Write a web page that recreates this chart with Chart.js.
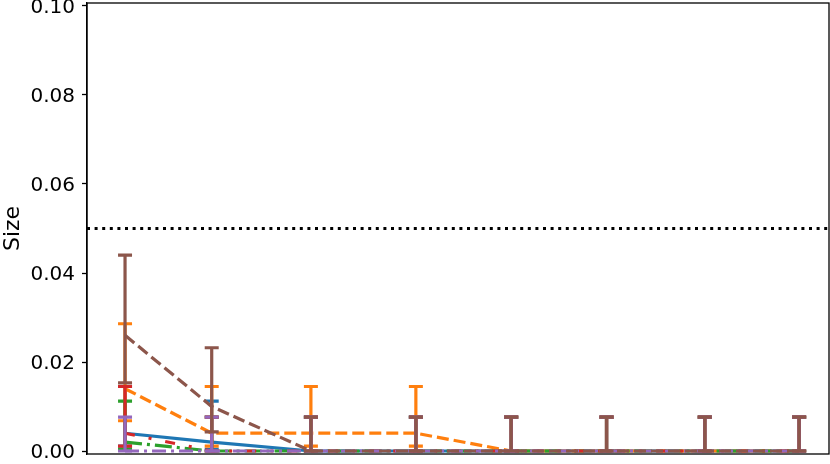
<!DOCTYPE html>
<html>
<head>
<meta charset="utf-8">
<script src="https://cdn.jsdelivr.net/npm/chart.js@4/dist/chart.umd.min.js"></script>
<style>
  html, body { margin: 0; padding: 0; background: #fff; }
  #wrap { width: 830px; height: 464px; }
</style>
</head>
<body>
<div id="wrap"><canvas id="sizeChart" width="830" height="464"></canvas></div>
<script>
// x positions of the 8 settings
const xVals = [1, 1.9, 2.93, 4.02, 5.01, 6.0, 7.02, 8.0];
const yTicks = [0, 0.02, 0.04, 0.06, 0.08, 0.10];
const alphaLevel = 0.05;

// estimated size + interval ends
const blueVals = [0.004, 0.002, 0, 0, 0, 0, 0, 0];
const blueLo   = [0.0011, 0.0004, 0, 0, 0, 0, 0, 0];
const blueHi   = [0.0145, 0.0112, 0.0076, 0.0076, 0.0076, 0.0076, 0.0076, 0.0076];

const orangeVals = [0.014, 0.004, 0.004, 0.004, 0, 0, 0, 0];
const orangeLo   = [0.0068, 0.0011, 0.0011, 0.0011, 0, 0, 0, 0];
const orangeHi   = [0.0286, 0.0145, 0.0145, 0.0145, 0.0076, 0.0076, 0.0076, 0.0076];

const greenVals = [0.002, 0, 0, 0, 0, 0, 0, 0];
const greenLo   = [0.0004, 0, 0, 0, 0, 0, 0, 0];
const greenHi   = [0.0112, 0.0076, 0.0076, 0.0076, 0.0076, 0.0076, 0.0076, 0.0076];

const redVals = [0.004, 0, 0, 0, 0, 0, 0, 0];
const redLo   = [0.0011, 0, 0, 0, 0, 0, 0, 0];
const redHi   = [0.0145, 0.0076, 0.0076, 0.0076, 0.0076, 0.0076, 0.0076, 0.0076];

const purpleVals = [0, 0, 0, 0, 0, 0, 0, 0];
const purpleLo   = [0, 0, 0, 0, 0, 0, 0, 0];
const purpleHi   = [0.0076, 0.0076, 0.0076, 0.0076, 0.0076, 0.0076, 0.0076, 0.0076];

const brownVals = [0.026, 0.010, 0, 0, 0, 0, 0, 0];
const brownLo   = [0.0153, 0.0043, 0, 0, 0, 0, 0, 0];
const brownHi   = [0.0440, 0.0232, 0.0076, 0.0076, 0.0076, 0.0076, 0.0076, 0.0076];

const LW = 3.2;

function series(vals, lo, hi, color, dash, order) {
  return {
    data: xVals.map((x, i) => ({ x: x, y: vals[i] })),
    lo: lo, hi: hi,
    order: order,          // higher order drawn first -> brown ends on top
    borderColor: color,
    backgroundColor: color,
    borderWidth: LW,
    borderDash: dash,
    pointRadius: 0,
    tension: 0,
    fill: false
  };
}

// draw error bars right after each series so later ones sit on top
const errorBars = {
  id: 'errorBars',
  afterDatasetDraw(chart, args) {
    const ds = chart.data.datasets[args.index];
    if (!ds.lo) return;
    const ctx = chart.ctx, xs = chart.scales.x, ys = chart.scales.y;
    ctx.save();
    ctx.strokeStyle = ds.borderColor;
    ctx.lineWidth = LW;
    ctx.setLineDash([]);
    xVals.forEach((x, i) => {
      const px = xs.getPixelForValue(x);
      const y1 = ys.getPixelForValue(ds.lo[i]);
      const y2 = ys.getPixelForValue(ds.hi[i]);
      ctx.beginPath();
      ctx.moveTo(px, y1); ctx.lineTo(px, y2);
      ctx.moveTo(px - 7, y1); ctx.lineTo(px + 7, y1);
      ctx.moveTo(px - 7, y2); ctx.lineTo(px + 7, y2);
      ctx.stroke();
    });
    ctx.restore();
  }
};

const refLine = {
  id: 'refLine',
  beforeDatasetsDraw(chart) {
    const ctx = chart.ctx, a = chart.chartArea;
    const py = chart.scales.y.getPixelForValue(alphaLevel);
    ctx.save();
    ctx.strokeStyle = '#000';
    ctx.lineWidth = 3;
    ctx.setLineDash([3, 4.6]);
    ctx.beginPath();
    ctx.moveTo(a.left, py); ctx.lineTo(a.right, py);
    ctx.stroke();
    ctx.restore();
  }
};

const frame = {
  id: 'frame',
  afterDraw(chart) {
    const ctx = chart.ctx, a = chart.chartArea;
    ctx.save();
    ctx.strokeStyle = '#000';
    ctx.lineWidth = 1.3;
    ctx.strokeRect(a.left, a.top, a.right - a.left, a.bottom - a.top);
    ctx.restore();
  }
};

new Chart(document.getElementById('sizeChart'), {
  type: 'line',
  data: {
    datasets: [
      series(blueVals, blueLo, blueHi, '#1f77b4', [], 5),
      series(orangeVals, orangeLo, orangeHi, '#ff7f0e', [12, 5], 4),
      series(greenVals, greenLo, greenHi, '#2ca02c', [17, 5, 3, 5], 3),
      series(redVals, redLo, redHi, '#d62728', [10, 14, 3, 14], 2),
      series(purpleVals, purpleLo, purpleHi, '#9467bd', [14, 5, 3, 5], 1),
      series(brownVals, brownLo, brownHi, '#8c564b', [12, 5], 0)
    ]
  },
  options: {
    responsive: false,
    animation: false,
    layout: { padding: { top: 3, right: 1, bottom: 10, left: 0 } },
    plugins: { legend: { display: false }, tooltip: { enabled: false } },
    scales: {
      x: {
        type: 'linear',
        min: 0.605,
        max: 8.31,
        display: false
      },
      y: {
        min: -0.00067,
        max: 0.10067,
        afterFit: s => { s.width = 87; s.paddingTop = 0; s.paddingBottom = 0; },
        afterBuildTicks: s => { s.ticks = yTicks.map(v => ({ value: v })); },
        grid: { drawOnChartArea: false, drawTicks: true, tickLength: 5, tickWidth: 1.3, color: '#000' },
        border: { display: true, color: '#000', width: 1.3 },
        ticks: {
          padding: 7,
          labelOffset: 2,
          color: '#000',
          font: { family: 'DejaVu Sans', size: 20 },
          callback: v => Number(v).toFixed(2)
        },
        title: {
          display: true,
          text: 'Size',
          color: '#000',
          padding: { top: 0, bottom: 0 },
          font: { family: 'DejaVu Sans', size: 22 }
        }
      }
    }
  },
  plugins: [refLine, errorBars, frame]
});
</script>
</body>
</html>
